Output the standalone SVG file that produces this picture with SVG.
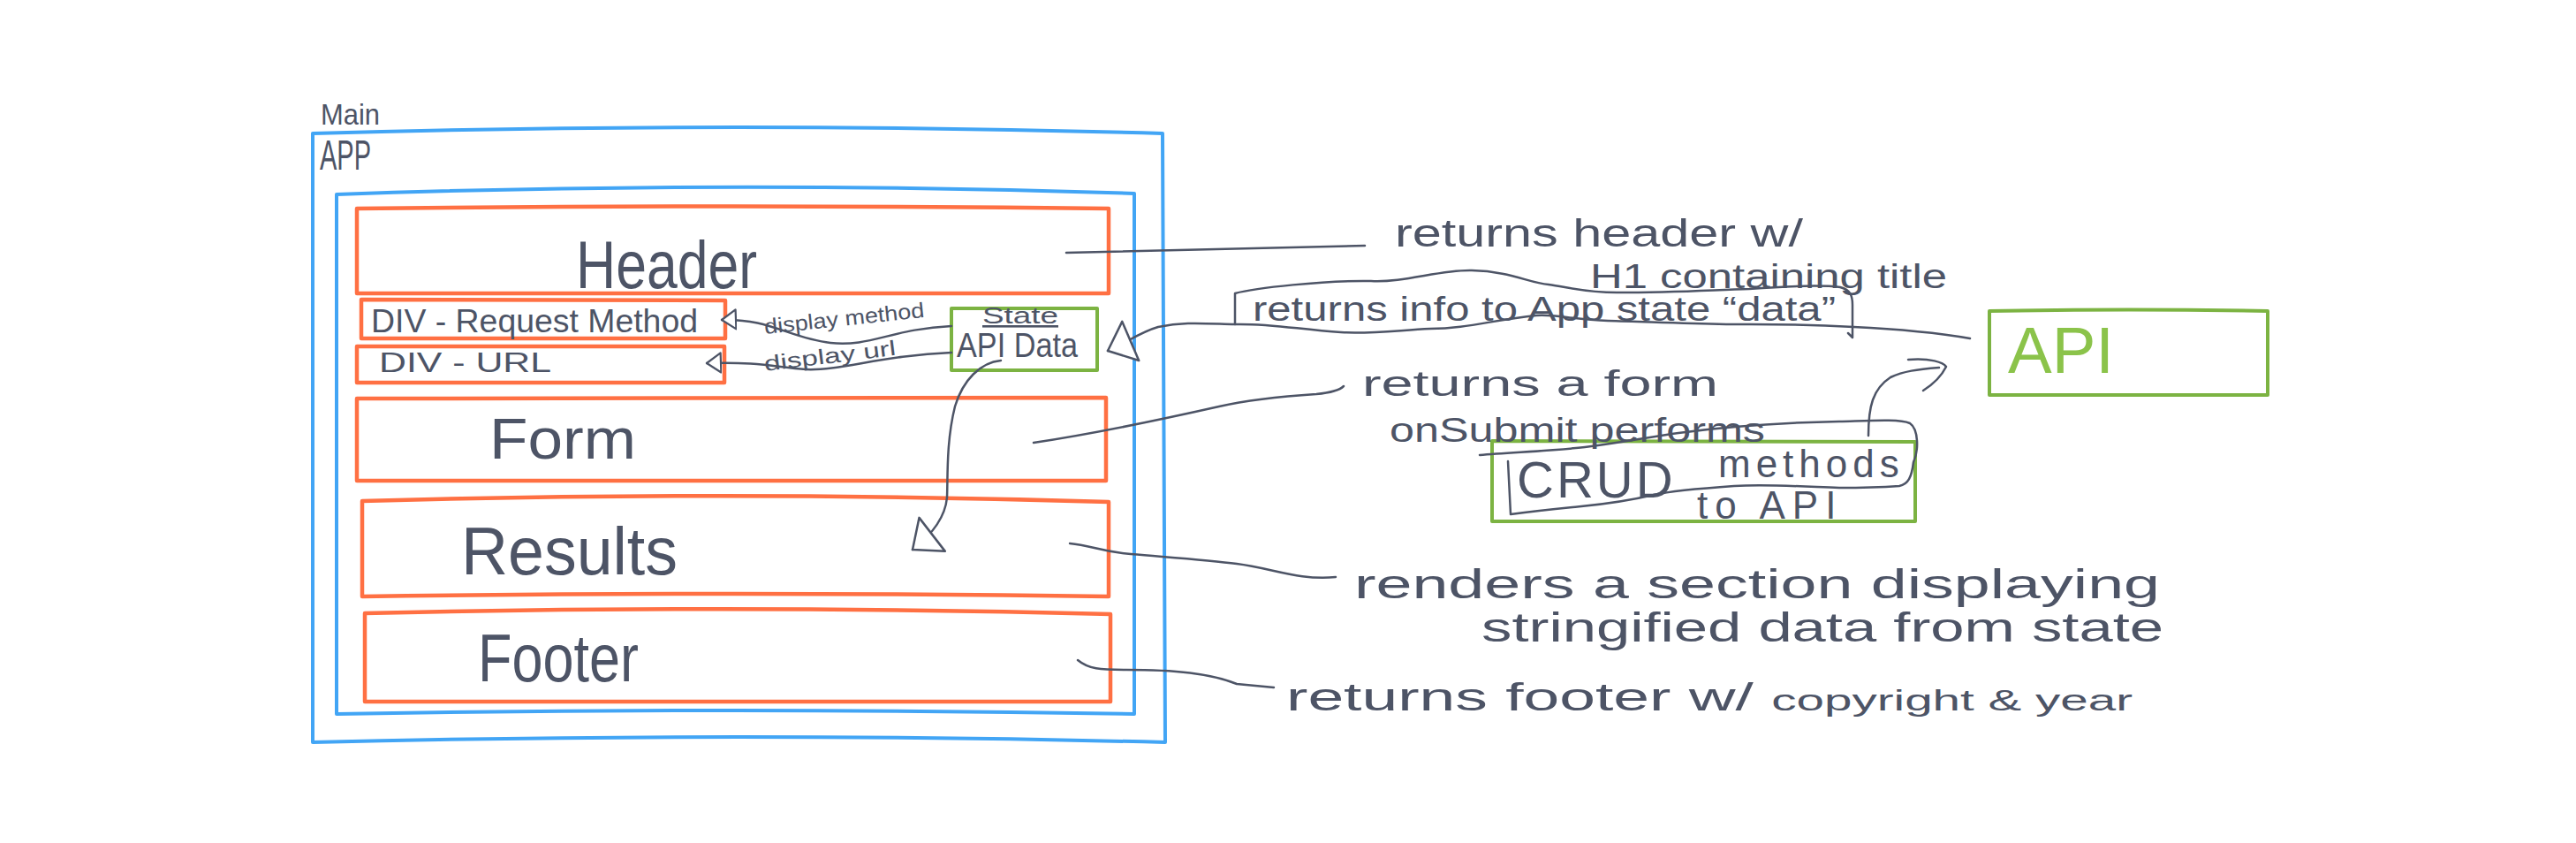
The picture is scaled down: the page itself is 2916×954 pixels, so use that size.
<svg xmlns="http://www.w3.org/2000/svg" width="2916" height="954" viewBox="0 0 2916 954">
<style>
.blue{fill:none;stroke:#42a5f5;stroke-width:4;stroke-linejoin:round}
.orange{fill:none;stroke:#ff7043;stroke-width:4.5;stroke-linejoin:round}
.green{fill:none;stroke:#7cb342;stroke-width:4;stroke-linejoin:round}
.ink{fill:none;stroke:#4d5466;stroke-width:2.5;stroke-linecap:round;stroke-linejoin:round}
.t{font-family:"Liberation Sans",Arial,sans-serif;fill:#4d5466}
.tg{font-family:"Liberation Sans",Arial,sans-serif;fill:#8bc34a}
</style>
<defs>
<marker id="triS" viewBox="0 0 18 26" refX="17" refY="13" markerWidth="18" markerHeight="26" markerUnits="userSpaceOnUse" orient="auto">
<path d="M1,2 L17,13 L1,24 Z" fill="#ffffff" stroke="#4d5466" stroke-width="2.2" stroke-linejoin="round"/>
</marker>
<marker id="triL" viewBox="0 0 32 52" refX="30" refY="26" markerWidth="32" markerHeight="52" markerUnits="userSpaceOnUse" orient="auto">
<path d="M2,2 L30,26 L2,50 Z" fill="#ffffff" stroke="#4d5466" stroke-width="2.5" stroke-linejoin="round"/>
</marker>
</defs>
<rect width="2916" height="954" fill="#ffffff"/>

<g id="app">
<path class="blue" d="M354,151 Q835,137 1316,151 L1319,840 Q835,828 354,840 Z"/>
<text class="t" x="363" y="141" font-size="34" textLength="67" lengthAdjust="spacingAndGlyphs">Main</text>
<text class="t" x="362" y="192" font-size="48" textLength="58" lengthAdjust="spacingAndGlyphs">APP</text>
</g>

<g id="main">
<path class="blue" d="M381,220 Q832,204 1284,219 L1284,808 Q832,800 381,808 Z"/>
</g>

<g id="header">
<path class="orange" d="M404,236 Q830,231 1255,236 L1255,332 L404,332 Z"/>
<text class="t" x="652" y="326" font-size="76" textLength="205" lengthAdjust="spacingAndGlyphs">Header</text>
</g>

<g id="div-request">
<path class="orange" d="M409,339 L821,340 L821,383 L409,383 Z"/>
<text class="t" x="420" y="376" font-size="36" textLength="370" lengthAdjust="spacingAndGlyphs">DIV - Request Method</text>
</g>

<g id="div-url">
<path class="orange" d="M404,392 L820,392 L820,433 L404,433 Z"/>
<text class="t" x="429" y="421" font-size="32" textLength="195" lengthAdjust="spacingAndGlyphs">DIV - URL</text>
</g>

<g id="form">
<path class="orange" d="M404,451 L1252,450 L1252,544 L404,544 Z"/>
<text class="t" x="554" y="519" font-size="64" textLength="166" lengthAdjust="spacingAndGlyphs">Form</text>
</g>

<g id="results">
<path class="orange" d="M410,567 Q832,555 1255,568 L1255,675 Q832,669 410,675 Z"/>
<text class="t" x="522" y="650" font-size="76" textLength="245" lengthAdjust="spacingAndGlyphs">Results</text>
</g>

<g id="footer">
<path class="orange" d="M413,694 Q835,684 1257,695 L1257,794 L413,794 Z"/>
<text class="t" x="541" y="771" font-size="76" textLength="182" lengthAdjust="spacingAndGlyphs">Footer</text>
</g>

<g id="state">
<path class="green" d="M1077,349 L1242,349 L1242,419 L1077,419 Z"/>
<text class="t" x="1112" y="366" font-size="26" textLength="86" lengthAdjust="spacingAndGlyphs" text-decoration="underline">State</text>
<text class="t" x="1083" y="404" font-size="38" textLength="137" lengthAdjust="spacingAndGlyphs">API Data</text>
</g>

<g id="api">
<path class="green" d="M2252,352 Q2410,349 2567,352 L2567,447 L2252,447 Z"/>
<text class="tg" x="2273" y="422" font-size="74" textLength="120" lengthAdjust="spacingAndGlyphs">API</text>
</g>

<g id="crud">
<path class="green" d="M1689,499 L2168,500 L2168,590 L1689,590 Z"/>
<path class="ink" d="M1675,515 C1710,512 1760,510 1794,506 C1840,500 1870,494 1900,490 C1960,482 2030,478 2082,477 C2120,476 2150,474 2162,479 C2172,486 2172,510 2166,523 C2164,540 2160,548 2150,550 C2120,552 2100,552 2082,552 C2030,550 2000,548 1963,550 C1920,553 1890,556 1872,560 C1830,570 1800,572 1780,574 C1760,576 1740,578 1710,582 L1707,522"/>
<text class="t" font-size="40">
<tspan x="1717" y="563" font-size="58" letter-spacing="3">CRUD</tspan>
<tspan x="1945" y="540" font-size="44" letter-spacing="6">methods</tspan>
<tspan x="1921" y="587" font-size="44" letter-spacing="8">to API</tspan>
</text>
</g>

<g id="note-header">
<text class="t" x="1579" y="279" font-size="44" textLength="462" lengthAdjust="spacingAndGlyphs">returns header w/</text>
<text class="t" x="1800" y="326" font-size="38" textLength="404" lengthAdjust="spacingAndGlyphs">H1 containing title</text>
</g>

<g id="note-state">
<path class="ink" d="M1398,367 L1398,332 C1420,326 1500,317 1552,318 C1590,320 1630,305 1666,306 C1710,307 1730,320 1753,322 C1775,325 1795,331 1830,331 C1900,331 1940,328 1980,327 C2020,324 2060,322 2083,325 C2095,328 2097,335 2097,345 L2097,382 L2092,377"/>
<text class="t" x="1418" y="363" font-size="38" textLength="660" lengthAdjust="spacingAndGlyphs">returns info to App state “data”</text>
</g>

<g id="note-form">
<text class="t" x="1542" y="448" font-size="40" textLength="403" lengthAdjust="spacingAndGlyphs">returns a form</text>
<text class="t" x="1573" y="500" font-size="38" textLength="425" lengthAdjust="spacingAndGlyphs">onSubmit performs</text>
</g>

<g id="note-results">
<text class="t" x="1533" y="677" font-size="46" textLength="912" lengthAdjust="spacingAndGlyphs">renders a section displaying</text>
<text class="t" x="1677" y="726" font-size="46" textLength="772" lengthAdjust="spacingAndGlyphs">stringified data from state</text>
</g>

<g id="note-footer">
<text class="t" x="1456" y="804" textLength="958" lengthAdjust="spacingAndGlyphs"><tspan font-size="44">returns footer w/ </tspan><tspan font-size="34">copyright &amp; year</tspan></text>
</g>

<g id="connectors">
<path class="ink" d="M1207,286 C1300,283 1420,280 1545,278"/>
<path class="ink" d="M1077,369 C1010,372 985,393 940,388 C895,383 870,360 817,362" marker-end="url(#triS)"/>
<text class="t" x="866" y="378" font-size="24" textLength="182" lengthAdjust="spacingAndGlyphs" transform="rotate(-6 866 378)">display method</text>
<path class="ink" d="M1077,399 C1000,402 950,420 912,418 C880,416 860,409 800,411" marker-end="url(#triS)"/>
<text class="t" x="866" y="420" font-size="24" textLength="150" lengthAdjust="spacingAndGlyphs" transform="rotate(-7 866 420)">display url</text>
<path class="ink" d="M2230,383 C2190,376 2140,372 2098,370 C2030,366 1980,367 1954,367 C1900,366 1860,364 1820,363 C1780,362 1760,355 1739,357 C1690,362 1660,372 1619,372 C1580,374 1550,378 1518,376 C1470,373 1440,366 1398,367 C1360,366 1340,364 1311,370 C1290,376 1275,388 1254,397" marker-end="url(#triL)"/>
<path class="ink" d="M1133,408 C1110,410 1090,430 1081,460 C1071,500 1073,540 1072,563 C1070,585 1055,605 1033,622" marker-end="url(#triL)"/>
<path class="ink" d="M1170,501 C1230,492 1300,478 1380,460 C1420,451 1460,448 1490,446 C1510,444 1518,440 1521,437"/>
<path class="ink" d="M1211,615 C1235,617 1245,624 1280,627 C1340,632 1370,634 1400,638 C1440,643 1470,657 1512,653"/>
<path class="ink" d="M1220,747 C1232,757 1245,758 1275,758 C1330,758 1370,762 1400,774 L1442,778"/>
<path class="ink" d="M2115,493 C2115,460 2120,440 2140,427 C2155,420 2170,418 2195,416"/>
<path class="ink" d="M2160,407 C2185,405 2200,410 2203,415 C2198,425 2188,435 2177,442"/>
</g>
</svg>
